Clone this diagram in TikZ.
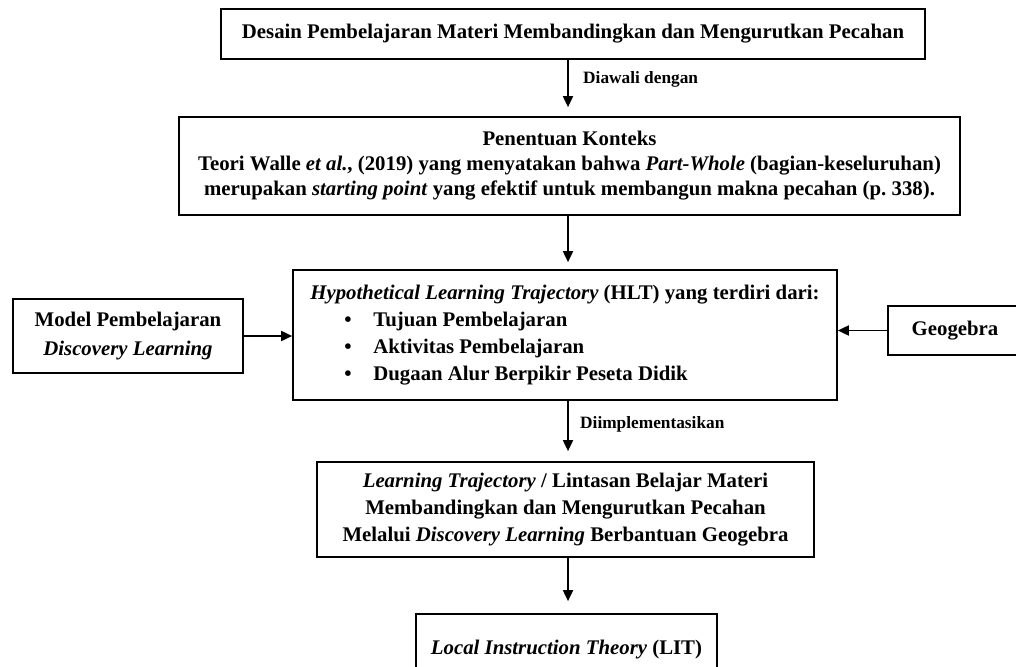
\documentclass[tikz,border=0pt]{standalone}
\usepackage{fontspec}
\setmainfont{Liberation Serif}
\usetikzlibrary{arrows.meta,calc}
\begin{document}
\begin{tikzpicture}[x=1pt,y=-1pt,
  box/.style={draw=black,line width=1.7pt,align=center,inner sep=0pt,font=\fontsize{20.8}{25}\selectfont\bfseries},
  arr/.style={line width=1.8pt,-{Triangle[length=11pt,width=10pt]}},
  lab/.style={font=\fontsize{17.3}{19}\selectfont\bfseries,anchor=west,inner sep=0pt}]
\useasboundingbox (0,0) rectangle (1016,666);
\fill[white] (0,0) rectangle (1016,666);
\coordinate (col) at (568,0);
\node[box,minimum width=704pt,minimum height=50pt] (b1) at (573,34)
  {Desain Pembelajaran Materi Membandingkan dan Mengurutkan Pecahan};
\node[box,minimum width=781pt,minimum height=98pt] (b2) at (569.5,166)
  {Penentuan Konteks\\Teori Walle \textit{et al.}, (2019) yang menyatakan bahwa \textit{Part-Whole} (bagian-keseluruhan)\\merupakan \textit{starting point} yang efektif untuk membangun makna pecahan (p.~338).};
\node[box,align=left,minimum width=544pt,minimum height=130pt,font=\fontsize{20.8}{27}\selectfont\bfseries] (b3) at (565,335)
  {\textit{Hypothetical Learning Trajectory} (HLT) yang terdiri dari:\\
   \hspace*{34pt}\makebox[29pt][l]{\textbullet}Tujuan Pembelajaran\\
   \hspace*{34pt}\makebox[29pt][l]{\textbullet}Aktivitas Pembelajaran\\
   \hspace*{34pt}\makebox[29pt][l]{\textbullet}Dugaan Alur Berpikir Peseta Didik};
\node[box,minimum width=230pt,minimum height=74pt,font=\fontsize{20.8}{29}\selectfont\bfseries] (m) at (128,336)
  {Model Pembelajaran\\\textit{Discovery Learning}};
\node[box,minimum width=134pt,minimum height=49pt] (g) at (955,330.5) {Geogebra};
\node[box,minimum width=497pt,minimum height=95pt,font=\fontsize{20.8}{27}\selectfont\bfseries] (b4) at (565.5,509.5)
  {\textit{Learning Trajectory} / Lintasan Belajar Materi\\Membandingkan dan Mengurutkan Pecahan\\Melalui \textit{Discovery Learning} Berbantuan Geogebra};
\node[box,minimum width=301pt,minimum height=72pt] (b5) at (566.5,650)
  {\textit{Local Instruction Theory} (LIT)};
\draw[arr,shorten >=9pt] (b1.south -| col) -- (b2.north -| col);
\node[lab] (l1) at (583,79) {Diawali dengan};
\draw[arr,shorten >=7pt] (b2.south -| col) -- (b3.north -| col);
\draw[arr,shorten >=10pt] (b3.south -| col) -- (b4.north -| col);
\node[lab] (l2) at (580,424) {Diimplementasikan};
\draw[arr,shorten >=12pt] (b4.south -| col) -- (b5.north -| col);
\draw[arr] (m.east) -- (m.east -| b3.west);
\draw[arr] (g.west) -- (g.west -| b3.east);
\end{tikzpicture}
\end{document}
